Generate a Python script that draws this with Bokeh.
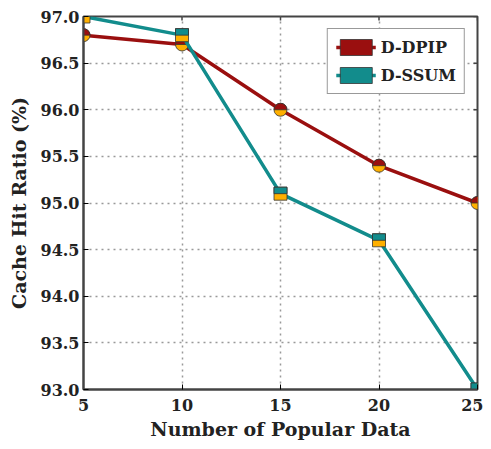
import math
from bokeh.plotting import figure
from bokeh.models import Range1d, FixedTicker, Legend, LegendItem, PrintfTickFormatter
from bokeh.embed import file_html
from bokeh.resources import INLINE

x_vals = [5, 10, 15, 20, 25]
dpip = [96.8, 96.7, 96.0, 95.4, 95.0]
ssum = [97.0, 96.8, 95.1, 94.6, 93.0]
x_ticks = [5, 10, 15, 20, 25]
y_ticks = [93.0, 93.5, 94.0, 94.5, 95.0, 95.5, 96.0, 96.5, 97.0]

RED = "#9a0f0f"
TEAL = "#128c8c"
ORANGE = "#ffb000"
FONT = "DejaVu Serif"

X0, X1, Y0, Y1 = 5, 25, 93, 97
FW, FH = 394, 373
p = figure(frame_width=FW, frame_height=FH, x_range=Range1d(X0, X1), y_range=Range1d(Y0, Y1),
           output_backend="svg", toolbar_location=None,
           min_border_left=83, min_border_right=6, min_border_top=16, min_border_bottom=50,
           x_axis_label="Number of Popular Data", y_axis_label="Cache Hit Ratio (%)")
p.background_fill_color = "white"
p.outline_line_color = "#444444"
p.outline_line_width = 2

for ax in (p.xaxis[0], p.yaxis[0]):
    ax.major_label_text_font = FONT
    ax.major_label_text_font_style = "bold"
    ax.major_label_text_font_size = "16px"
    ax.major_label_text_color = "#222222"
    ax.axis_label_text_font = FONT
    ax.axis_label_text_font_style = "bold"
    ax.axis_label_text_font_size = "19px"
    ax.axis_label_text_color = "#222222"
    ax.major_tick_in = 5
    ax.major_tick_out = 0
    ax.minor_tick_line_color = None
    ax.axis_line_color = "#444444"
    ax.axis_line_width = 2

p.xaxis[0].ticker = FixedTicker(ticks=x_ticks)
p.yaxis[0].ticker = FixedTicker(ticks=y_ticks)
p.yaxis[0].formatter = PrintfTickFormatter(format="%.1f")
p.xaxis[0].major_label_standoff = 9
p.yaxis[0].major_label_standoff = 4
p.xaxis[0].axis_label_standoff = 4
p.yaxis[0].axis_label_standoff = 8

p.xgrid.ticker = FixedTicker(ticks=x_ticks)
p.ygrid.ticker = FixedTicker(ticks=y_ticks)
for g in (p.xgrid, p.ygrid):
    g.grid_line_color = "#999999"
    g.grid_line_dash = "2 4"
    g.grid_line_width = 1.5

# inward ticks on the top and right frame edges
dx = (X1 - X0) / FW
dy = (Y1 - Y0) / FH
p.segment(x0=[X1] * len(y_ticks), y0=y_ticks, x1=[X1 - 4 * dx] * len(y_ticks), y1=y_ticks,
          line_color="#444444", line_width=1.5)
p.segment(x0=x_ticks, y0=[Y1] * len(x_ticks), x1=x_ticks, y1=[Y1 - 4 * dy] * len(x_ticks),
          line_color="#444444", line_width=1.5)

# D-DPIP
l1 = p.line(x_vals, dpip, line_color=RED, line_width=3.5)
c1 = p.scatter(x_vals, dpip, marker="circle", size=13, fill_color=ORANGE, line_color="#333333", line_width=0.8)
w1 = p.wedge(x_vals, dpip, radius=6.5, radius_units="screen", start_angle=0, end_angle=math.pi,
             fill_color=RED, line_color="#333333", line_width=0.8)

# D-SSUM
l2 = p.line(x_vals, ssum, line_color=TEAL, line_width=3.5)
s2 = p.scatter(x_vals, ssum, marker="square", size=13, fill_color=ORANGE, line_color="#333333", line_width=0.8)
r2 = p.rect(x_vals, [v + 3.25 * dy for v in ssum], width=13, height=6.5,
            width_units="screen", height_units="screen", fill_color=TEAL, line_color="#333333", line_width=0.8)

legend = Legend(items=[LegendItem(label="D-DPIP", renderers=[l1, c1, w1]),
                       LegendItem(label="D-SSUM", renderers=[l2, s2, r2])],
                location="top_right")
legend.label_text_font = FONT
legend.label_text_font_style = "bold"
legend.label_text_font_size = "16px"
legend.label_text_color = "#222222"
legend.glyph_width = 40
legend.glyph_height = 20
legend.spacing = 8
legend.padding = 8
legend.margin = 12
legend.border_line_color = "#333333"
legend.border_line_width = 1.5
legend.background_fill_alpha = 1
p.add_layout(legend, "center")

open("out.html", "w").write(file_html(p, INLINE))
